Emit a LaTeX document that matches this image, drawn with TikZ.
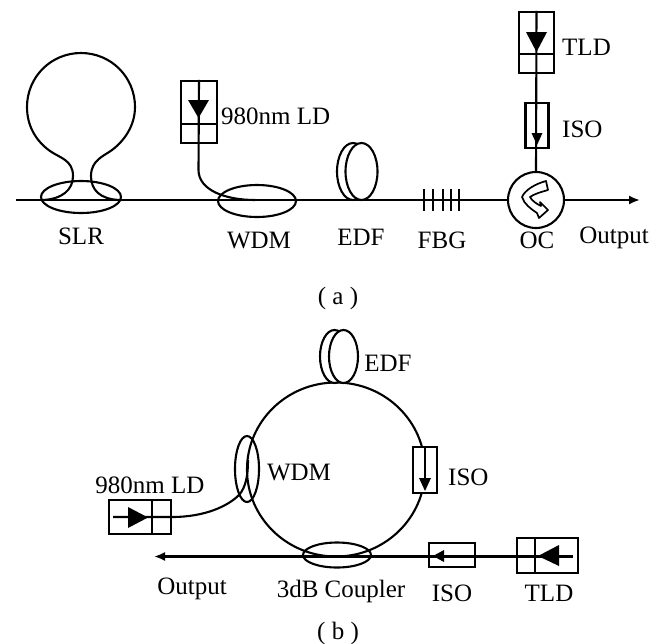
\documentclass[tikz,border=0pt]{standalone}
\usepackage{fontspec}
\setmainfont{Liberation Serif}
\usetikzlibrary{shapes.geometric, arrows.meta}
\tikzset{
  x=1pt, y=-1pt,
  fibre/.style={line width=2.1pt},
  lbl/.style={inner sep=0pt, font=\fontsize{25}{28}\selectfont},
  cell/.style={draw, fibre, inner sep=0pt, fill=white},
  coupler/.style={draw, fibre, ellipse, inner sep=0pt},
  spool/.style={draw, fibre, ellipse, inner sep=0pt, fill=white},
  tip/.style={fill=black, draw=none},
}
\begin{document}
\begin{tikzpicture}%
\useasboundingbox (0,0) rectangle (661,643);%
% (a)
\coordinate (inA) at (16,200);%
\coordinate (outA) at (640,200);%
\node [cell, circle, minimum size=56pt] (oc) at (536,200) {};%
\node [coupler, minimum width=80pt, minimum height=32pt] (slrC) at (81,197) {};%
\node [coupler, minimum width=78pt, minimum height=32pt] (wdmA) at (257,201) {};%
\node [cell, minimum width=36pt, minimum height=62pt] (ldA) at (199,112) {};%
\node [cell, minimum width=35pt, minimum height=61pt] (tldA) at (536.5,42.5) {};%
\node [cell, minimum width=23pt, minimum height=45pt] (isoA) at (537,125.5) {};%
\coordinate (wdmAin) at (255,200);%
\draw [fibre] (inA) -- (oc.west);%
\draw [fibre, -{Latex[length=11pt,width=9pt]}] (oc.east) -- (outA);%
% loop
\draw [fibre] (43,200) .. controls (62,199) and (73,190) .. (73,176)
  .. controls (73,160) and (60,158) .. (50,151)
  .. controls (36,141) and (27,126) .. (27,107)
  .. controls (27,77) and (51,53) .. (81,53)
  .. controls (111,53) and (135,77) .. (135,107)
  .. controls (135,126) and (124,141) .. (112,150)
  .. controls (104,156) and (91,160) .. (91,176)
  .. controls (91,190) and (100,199) .. (119,200);%
% 980nm LD
\draw [fibre] (ldA.north) -- (198.5,170) .. controls (198.5,190) and (225,200) .. (wdmAin);%
\draw [fibre] (ldA.west |- 0,124) -- (ldA.east |- 0,124);%
\fill [tip] (188,100) -- (209,100) -- (198.5,118) -- cycle;%
% TLD + ISO
\draw [fibre] (tldA.north) -- (oc.north);%
\draw [fibre] (tldA.west |- 0,54) -- (tldA.east |- 0,54);%
\fill [tip] (526,32) -- (547,32) -- (536.5,52) -- cycle;%
\fill [tip] (531.5,133) -- (542.5,133) -- (537,145) -- cycle;%
% EDF
\node [spool, minimum width=32pt, minimum height=57pt] (edfB) at (353,171.5) {};%
\node [spool, minimum width=32pt, minimum height=57pt] (edfA) at (361.5,171.5) {};%
% FBG
\foreach \x in {424,433,443,451,459}
  \draw [fibre] (\x,189) -- (\x,211);%
% OC
\draw [line width=1.7pt, line join=round] (546,181) .. controls (535,184) and (525,190) .. (522,197)
  .. controls (524,204) and (531,209) .. (537,213) -- (539,218) -- (548,210) -- (540,202)
  -- (541,206) .. controls (537,204) and (532,201) .. (530,197)
  .. controls (534,194) and (541,192) .. (548,190) -- cycle;%
\node [lbl] (slrL) at (81,236) {SLR};%
\node [lbl] (wdmL) at (259,240) {WDM};%
\node [lbl] (edfL) at (361,237) {EDF};%
\node [lbl] (fbgL) at (442,240) {FBG};%
\node [lbl] (ocL) at (537,240) {OC};%
\node [lbl] (outL) at (614,238) {Output};%
\node [lbl, anchor=west] (tldL) at (562,47) {TLD};%
\node [lbl, anchor=west] (isoL) at (562,129) {ISO};%
\node [lbl, anchor=west] (ldL) at (221,116) {980nm LD};%
\node [lbl] (capA) at (338,298) {( a )};%
% (b)
\node [draw, fibre, ellipse, minimum width=178pt, minimum height=174pt, inner sep=0pt] (ring) at (336,469.5) {};%
\node [spool, minimum width=29pt, minimum height=53pt] (edfD) at (334.5,356.5) {};%
\node [spool, minimum width=29pt, minimum height=53pt] (edfC) at (343.5,356.5) {};%
\node [coupler, minimum width=24pt, minimum height=66pt] (wdmB) at (247,469) {};%
\node [coupler, minimum width=68pt, minimum height=25pt] (cpl) at (337,555) {};%
\node [cell, minimum width=24pt, minimum height=46pt] (isoC) at (425,470) {};%
\node [cell, minimum width=46pt, minimum height=24pt] (isoD) at (452,555) {};%
\node [cell, minimum width=61pt, minimum height=35pt] (tldB) at (547.5,555.5) {};%
\node [cell, minimum width=62pt, minimum height=34pt] (ldB) at (140,517) {};%
\coordinate (outB) at (154,556.5);%
\coordinate (tldBin) at (573,556.5);%
\coordinate (wdmBin) at (248,460);%
\draw [fibre, -{Latex[length=11pt,width=9pt]}] (tldBin) -- (outB);%
\draw [fibre] (isoC.north) -- (425,485);%
\fill [tip] (419,478) -- (431,478) -- (425,491) -- cycle;%
\fill [tip] (433,556) -- (444,550) -- (444,562) -- cycle;%
\fill [tip] (538,556) -- (559,545) -- (559,566) -- cycle;%
\draw [fibre] (tldB.north -| 535,0) -- (tldB.south -| 535,0);%
\draw [fibre] (113,517) -- (ldB.east) .. controls (205,517) and (228,506) .. (239,495) .. controls (246,487) and (248,475) .. (wdmBin);%
\draw [fibre] (ldB.north -| 152,0) -- (ldB.south -| 152,0);%
\fill [tip] (128,507) -- (148,517.5) -- (128,528) -- cycle;%
\node [lbl] (edfM) at (388,363) {EDF};%
\node [lbl] (wdmM) at (299,472) {WDM};%
\node [lbl, anchor=west] (isoM) at (448,477) {ISO};%
\node [lbl] (ldM) at (150,485) {980nm LD};%
\node [lbl] (outM) at (192,589) {Output};%
\node [lbl] (cplM) at (341,591) {3dB Coupler};%
\node [lbl] (isoN) at (452,593) {ISO};%
\node [lbl] (tldM) at (549,593) {TLD};%
\node [lbl] (capB) at (338,633) {( b )};%
\end{tikzpicture}
\end{document}
